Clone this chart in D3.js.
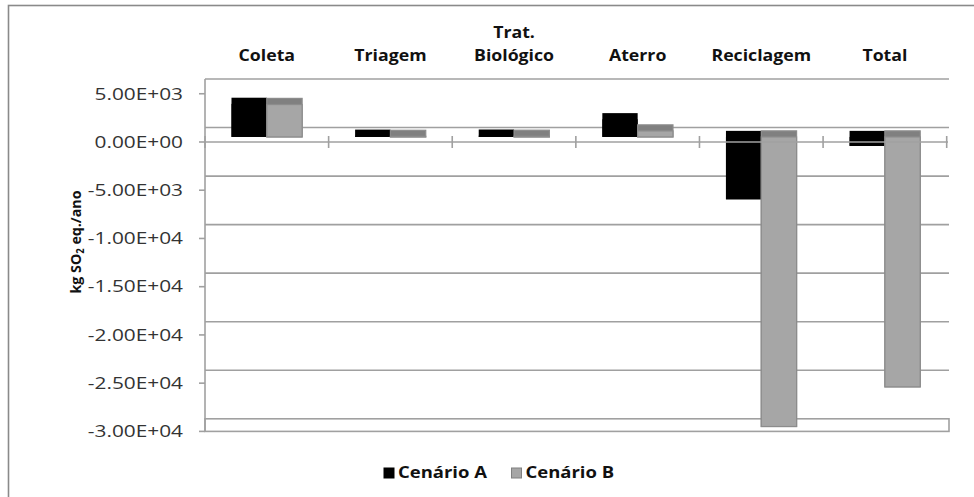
<!DOCTYPE html>
<html>
<head>
<meta charset="utf-8">
<script src="https://cdn.jsdelivr.net/npm/d3@7"></script>
<style>
  html, body { margin: 0; padding: 0; background: #fff; }
  svg { display: block; }
</style>
</head>
<body>
<svg id="chart" width="974" height="497"></svg>
<script>
// Acidification potential per stage, two scenarios
const categories = [["Coleta"], ["Triagem"], ["Trat.", "Biológico"], ["Aterro"], ["Reciclagem"], ["Total"]];
const seriesNames = ["Cenário A", "Cenário B"];
const valuesA = [3420, 130, 140, 1830, -6450, -930];
const valuesB = [3350, 60, 70, 620, -29950, -25850];
const yTicks = [5000, 0, -5000, -10000, -15000, -20000, -25000, -30000];
const yTitle = ["kg SO", "2", " eq./ano"];

const svg = d3.select("#chart");
const FONT = "'Open Sans', sans-serif";

const catKeys = categories.map(c => c.join(" "));
const x = d3.scaleBand().domain(catKeys).range([205, 946.7]).paddingInner(0).paddingOuter(0);
const xs = d3.scaleBand().domain(seriesNames).range([0, x.bandwidth()]).paddingInner(0).paddingOuter(0.75);

// front plane and back wall of the 3-D plot box
const yFront = d3.scaleLinear().domain([-30000, 5000]).range([431.4, 93.75]);
const yBack = d3.scaleLinear().domain([-30000, 5000]).range([418.8, 79]);
const yAt = (v, t) => yFront(v) * (1 - t) + yBack(v) * t;
const BAR_FRONT = 0.35, BAR_BACK = 0.77;
const wallRight = 949;
const LINE = "#a0a0a0";

// outer frame
svg.append("rect").attr("x", 8.5).attr("y", 5.5).attr("width", 1000).attr("height", 600)
  .attr("fill", "none").attr("stroke", "#8a8a8a").attr("stroke-width", 1.6);

// back wall gridlines
svg.append("g").selectAll("line").data(yTicks).join("line")
  .attr("x1", 205).attr("x2", wallRight)
  .attr("y1", d => yBack(d)).attr("y2", d => yBack(d))
  .attr("stroke", LINE).attr("stroke-width", 1.6);

// floor
const fmin = yTicks[yTicks.length - 1];
svg.append("rect").attr("x", 205).attr("y", yBack(fmin))
  .attr("width", wallRight - 205).attr("height", yFront(fmin) - yBack(fmin))
  .attr("fill", "#fff").attr("stroke", LINE).attr("stroke-width", 1.6);

// bars: top face (drawn through to the base) then front face over it
const styles = {
  "Cenário A": { front: "#000", top: "#000", stroke: "none" },
  "Cenário B": { front: "#a6a6a6", top: "#808080", stroke: "#8c8c8c" }
};
const bars = [];
catKeys.forEach((c, i) => {
  bars.push({ cat: c, s: seriesNames[0], v: valuesA[i] });
  bars.push({ cat: c, s: seriesNames[1], v: valuesB[i] });
});
const gb = svg.append("g");
bars.forEach(b => {
  const x0 = x(b.cat) + xs(b.s), w = xs.bandwidth();
  const hi = Math.max(b.v, 0), lo = Math.min(b.v, 0);
  const st = styles[b.s];
  const yTop = yAt(hi, BAR_BACK), yFace = yAt(hi, BAR_FRONT), yBase = yAt(lo, BAR_FRONT);
  gb.append("rect").attr("x", x0).attr("width", w)
    .attr("y", yTop).attr("height", yBase - yTop)
    .attr("fill", st.top).attr("stroke", st.stroke).attr("stroke-width", 1.2);
  if (yBase - yFace > 0.5) {
    gb.append("rect").attr("x", x0).attr("width", w)
      .attr("y", yFace).attr("height", yBase - yFace)
      .attr("fill", st.front).attr("stroke", st.stroke).attr("stroke-width", 1.2);
  }
});

// category axis on the front plane at zero
const y0 = yFront(0);
svg.append("line").attr("x1", 205).attr("x2", 948).attr("y1", y0).attr("y2", y0)
  .attr("stroke", LINE).attr("stroke-width", 1.6);
const bounds = catKeys.map(c => x(c)).concat([x.range()[1]]);
svg.append("g").selectAll("line").data(bounds).join("line")
  .attr("x1", d => d).attr("x2", d => d).attr("y1", y0 - 6).attr("y2", y0 + 6)
  .attr("stroke", LINE).attr("stroke-width", 1.6);

// value axis
svg.append("line").attr("x1", 205).attr("x2", 205).attr("y1", yBack(5000)).attr("y2", yFront(fmin))
  .attr("stroke", LINE).attr("stroke-width", 1.6);
svg.append("g").selectAll("line").data(yTicks).join("line")
  .attr("x1", 199).attr("x2", 205).attr("y1", d => yFront(d)).attr("y2", d => yFront(d))
  .attr("stroke", LINE).attr("stroke-width", 1.6);

// scientific tick format, e.g. 5.00E+03 / -1.50E+04
const fmt = d => {
  const [m, e] = d3.format(".2e")(d).replace(/\u2212/g, "-").split("e");
  return m + "E" + e[0] + e.slice(1).padStart(2, "0");
};
svg.append("g").selectAll("text").data(yTicks).join("text")
  .attr("transform", d => `translate(183,${yFront(d) + 5.8}) scale(1.27,1)`)
  .attr("text-anchor", "end").attr("font-family", FONT).attr("font-size", 16.4)
  .attr("fill", "#333").text(fmt);

// category labels along the top
const gl = svg.append("g");
categories.forEach((lines, i) => {
  const cx = x(catKeys[i]) + x.bandwidth() / 2;
  lines.forEach((ln, j) => {
    const by = 61 - (lines.length - 1 - j) * 23.3;
    gl.append("text").attr("transform", `translate(${cx},${by}) scale(1.08,1)`)
      .attr("text-anchor", "middle").attr("font-family", FONT).attr("font-weight", 700)
      .attr("font-size", 16.4).attr("fill", "#111").text(ln);
  });
});

// axis title
const tt = svg.append("text").attr("transform", `translate(80.5,242) rotate(-90) scale(0.95,1)`)
  .attr("text-anchor", "middle").attr("font-family", FONT).attr("font-weight", 700)
  .attr("font-size", 15).attr("fill", "#111");
tt.append("tspan").text(yTitle[0]);
tt.append("tspan").attr("font-size", 10).attr("dy", 3).text(yTitle[1]);
tt.append("tspan").attr("dy", -3).text(yTitle[2]);

// legend
const legend = svg.append("g");
const lx = [384, 511.5];
seriesNames.forEach((s, i) => {
  legend.append("rect").attr("x", lx[i]).attr("y", 468).attr("width", 10).attr("height", 10)
    .attr("fill", styles[s].front).attr("stroke", s === "Cenário B" ? "#808080" : "#000");
  legend.append("text").attr("transform", `translate(${lx[i] + 14},478.3) scale(1.2,1)`)
    .attr("font-family", FONT).attr("font-weight", 700).attr("font-size", 15.4).attr("fill", "#111").text(s);
});
</script>
</body>
</html>
